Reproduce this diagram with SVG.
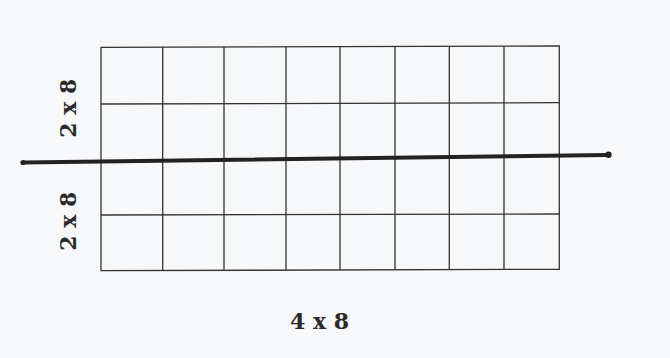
<svg xmlns="http://www.w3.org/2000/svg" width="670" height="358" viewBox="0 0 670 358">
<style>
.g{stroke:#333;stroke-width:1.3;fill:none}
.t{font-family:"DejaVu Serif","Liberation Serif",serif;font-weight:bold;font-size:22px;fill:#2a2a2a;text-anchor:middle}
</style>
<rect width="670" height="358" fill="#f7f8fa"/>
<g id="grid" class="g">
<path d="M101,47.3 L559.3,46 L559.3,269.3 L101,270.7 Z"/>
<path d="M101,104 L559.3,102.7 M101,215 L559.3,214"/>
<path d="M162.7,47.1 V270.5 M224,47 V270.3 M286,46.8 V270.1 M340,46.7 V270 M395,46.5 V269.8 M449.3,46.3 V269.6 M504,46.2 V269.5"/>
</g>
<g id="divider">
<line x1="24" y1="162.5" x2="608" y2="155" stroke="#222" stroke-width="4" stroke-linecap="round"/>
<circle cx="23" cy="162.5" r="2.6" fill="#222"/>
<circle cx="608.5" cy="154.8" r="3.2" fill="#222"/>
</g>
<g id="labels">
<text class="t" transform="translate(76,108.3) rotate(-90)">2 x 8</text>
<text class="t" transform="translate(76,221.3) rotate(-90)">2 x 8</text>
<text class="t" x="319.5" y="329">4 x 8</text>
</g>
</svg>
